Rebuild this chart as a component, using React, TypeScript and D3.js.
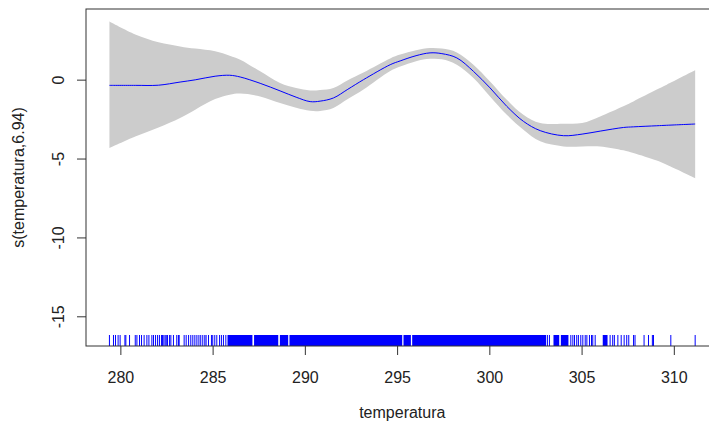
import React from "react";
import * as d3 from "d3";

const temperature = [279.38, 280.78, 282.04, 283.21, 284.03, 285.11, 285.9, 286.47, 287.55, 288.63, 289.5, 290.26, 290.8, 291.52, 292.3, 293.15, 294.6, 295.14, 296.0, 296.76, 297.4, 298.21, 299.11, 300.01, 300.92, 301.82, 302.73, 303.99, 305.0, 305.98, 307.24, 307.78, 309.05, 309.59, 311.13];
const fit = [-0.33, -0.33, -0.32, -0.12, 0.02, 0.25, 0.31, 0.2, -0.2, -0.68, -1.08, -1.36, -1.33, -1.13, -0.58, 0.03, 0.98, 1.22, 1.55, 1.73, 1.68, 1.41, 0.56, -0.49, -1.66, -2.61, -3.2, -3.52, -3.42, -3.23, -3.0, -2.96, -2.89, -2.86, -2.78];
const upper = [3.71, 2.89, 2.4, 2.14, 2.0, 1.83, 1.55, 1.3, 0.56, -0.18, -0.5, -0.65, -0.62, -0.49, 0.0, 0.49, 1.38, 1.62, 1.9, 2.04, 2.0, 1.76, 0.98, -0.08, -1.24, -2.19, -2.72, -2.76, -2.72, -2.3, -1.66, -1.35, -0.6, -0.29, 0.62];
const lower = [-4.3, -3.57, -3.0, -2.4, -1.87, -1.2, -0.92, -0.85, -1.03, -1.45, -1.75, -1.94, -1.95, -1.76, -1.2, -0.6, 0.58, 0.86, 1.2, 1.35, 1.32, 0.98, 0.14, -1.03, -2.19, -3.14, -3.88, -4.2, -4.2, -4.2, -4.45, -4.62, -5.1, -5.36, -6.21];

// Individual rug observations
const rugSingles = [279.38, 279.6, 279.71, 279.85, 279.96, 280.22, 280.27, 280.47, 280.78, 280.87, 281.01, 281.12, 281.26, 281.41, 281.52, 281.68, 281.77, 281.88, 281.99, 282.09, 282.2, 282.26, 282.33, 282.4, 282.46, 282.53, 282.64, 282.71, 282.85, 283.03, 283.12, 283.16, 283.43, 283.54, 283.67, 283.79, 283.9, 284.01, 284.12, 284.23, 284.33, 284.44, 284.55, 284.62, 284.75, 284.91, 284.98, 285.09, 285.2, 285.35, 285.45, 285.56, 285.69, 303.12, 303.23, 304.39, 304.5, 304.59, 304.71, 304.8, 304.93, 305.04, 305.17, 305.26, 305.4, 305.51, 305.58, 305.71, 306.52, 306.66, 306.75, 306.94, 307.12, 307.28, 307.42, 307.53, 307.79, 307.87, 308.36, 308.6, 308.81, 308.87, 309.81, 311.13];
// Spans where rug observations are so dense that ticks merge into a solid block
const rugBlockStart = [285.78, 287.22, 288.62, 289.14, 295.32, 295.79, 303.45, 303.85, 306.12];
const rugBlockEnd = [287.13, 288.53, 289.07, 295.25, 295.72, 303.05, 303.76, 304.26, 306.38];

const xTicks = [280, 285, 290, 295, 300, 305, 310];
const yTicks = [0, -5, -10, -15];

const W = 709;
const H = 425;
const left = 86;
const right = 718.6;
const top = 9;
const bottom = 346;
const FONT = "'Liberation Sans', Arial, sans-serif";
const TXT = "#222";

export default function App() {
  const x = d3.scaleLinear().domain([278.11, 312.4]).range([left, right]);
  const y = d3.scaleLinear().domain([-16.85, 4.51]).range([bottom, top]);

  const idx = temperature.map((_, i) => i);
  const curve = d3.curveCatmullRom.alpha(0.5);
  const area = d3
    .area<number>()
    .x((i) => x(temperature[i]))
    .y0((i) => y(lower[i]))
    .y1((i) => y(upper[i]))
    .curve(curve);
  const line = d3
    .line<number>()
    .x((i) => x(temperature[i]))
    .y((i) => y(fit[i]))
    .curve(curve);

  const rugLen = 11;

  return (
    <svg
      width={W}
      height={H}
      style={{ position: "fixed", left: 0, top: 0, background: "#fff" }}
      fontFamily={FONT}
    >
      <rect x={0} y={0} width={W} height={H} fill="#fff" />
      <path d={area(idx) ?? ""} fill="#cccccc" stroke="none" />
      <path d={line(idx) ?? ""} fill="none" stroke="#0000ff" strokeWidth={1} />

      {rugBlockStart.map((s, i) => (
        <rect
          key={"b" + i}
          x={x(s)}
          y={bottom - rugLen}
          width={x(rugBlockEnd[i]) - x(s)}
          height={rugLen}
          fill="#0000ff"
        />
      ))}
      {rugSingles.map((v, i) => (
        <line
          key={"r" + i}
          x1={x(v)}
          x2={x(v)}
          y1={bottom - rugLen}
          y2={bottom}
          stroke="#0000ff"
          strokeWidth={1}
        />
      ))}

      <rect
        x={left}
        y={top}
        width={right - left}
        height={bottom - top}
        fill="none"
        stroke="#333"
        strokeWidth={1}
      />

      {xTicks.map((t) => (
        <g key={"x" + t}>
          <line x1={x(t)} x2={x(t)} y1={bottom} y2={bottom + 9} stroke="#333" />
          <text
            x={x(t)}
            y={382.5}
            textAnchor="middle"
            fontSize={16}
            fill={TXT}
          >
            {t}
          </text>
        </g>
      ))}
      {yTicks.map((t) => (
        <g key={"y" + t}>
          <line x1={left - 9} x2={left} y1={y(t)} y2={y(t)} stroke="#333" />
          <text
            transform={`translate(63.5,${y(t)}) rotate(-90)`}
            textAnchor="middle"
            fontSize={16}
            fill={TXT}
          >
            {t}
          </text>
        </g>
      ))}

      <text
        x={(left + right) / 2}
        y={418}
        textAnchor="middle"
        fontSize={16}
        fill={TXT}
      >
        temperatura
      </text>
      <text
        transform={`translate(24,${(top + bottom) / 2}) rotate(-90)`}
        textAnchor="middle"
        fontSize={16}
        fill={TXT}
      >
        s(temperatura,6.94)
      </text>
    </svg>
  );
}
